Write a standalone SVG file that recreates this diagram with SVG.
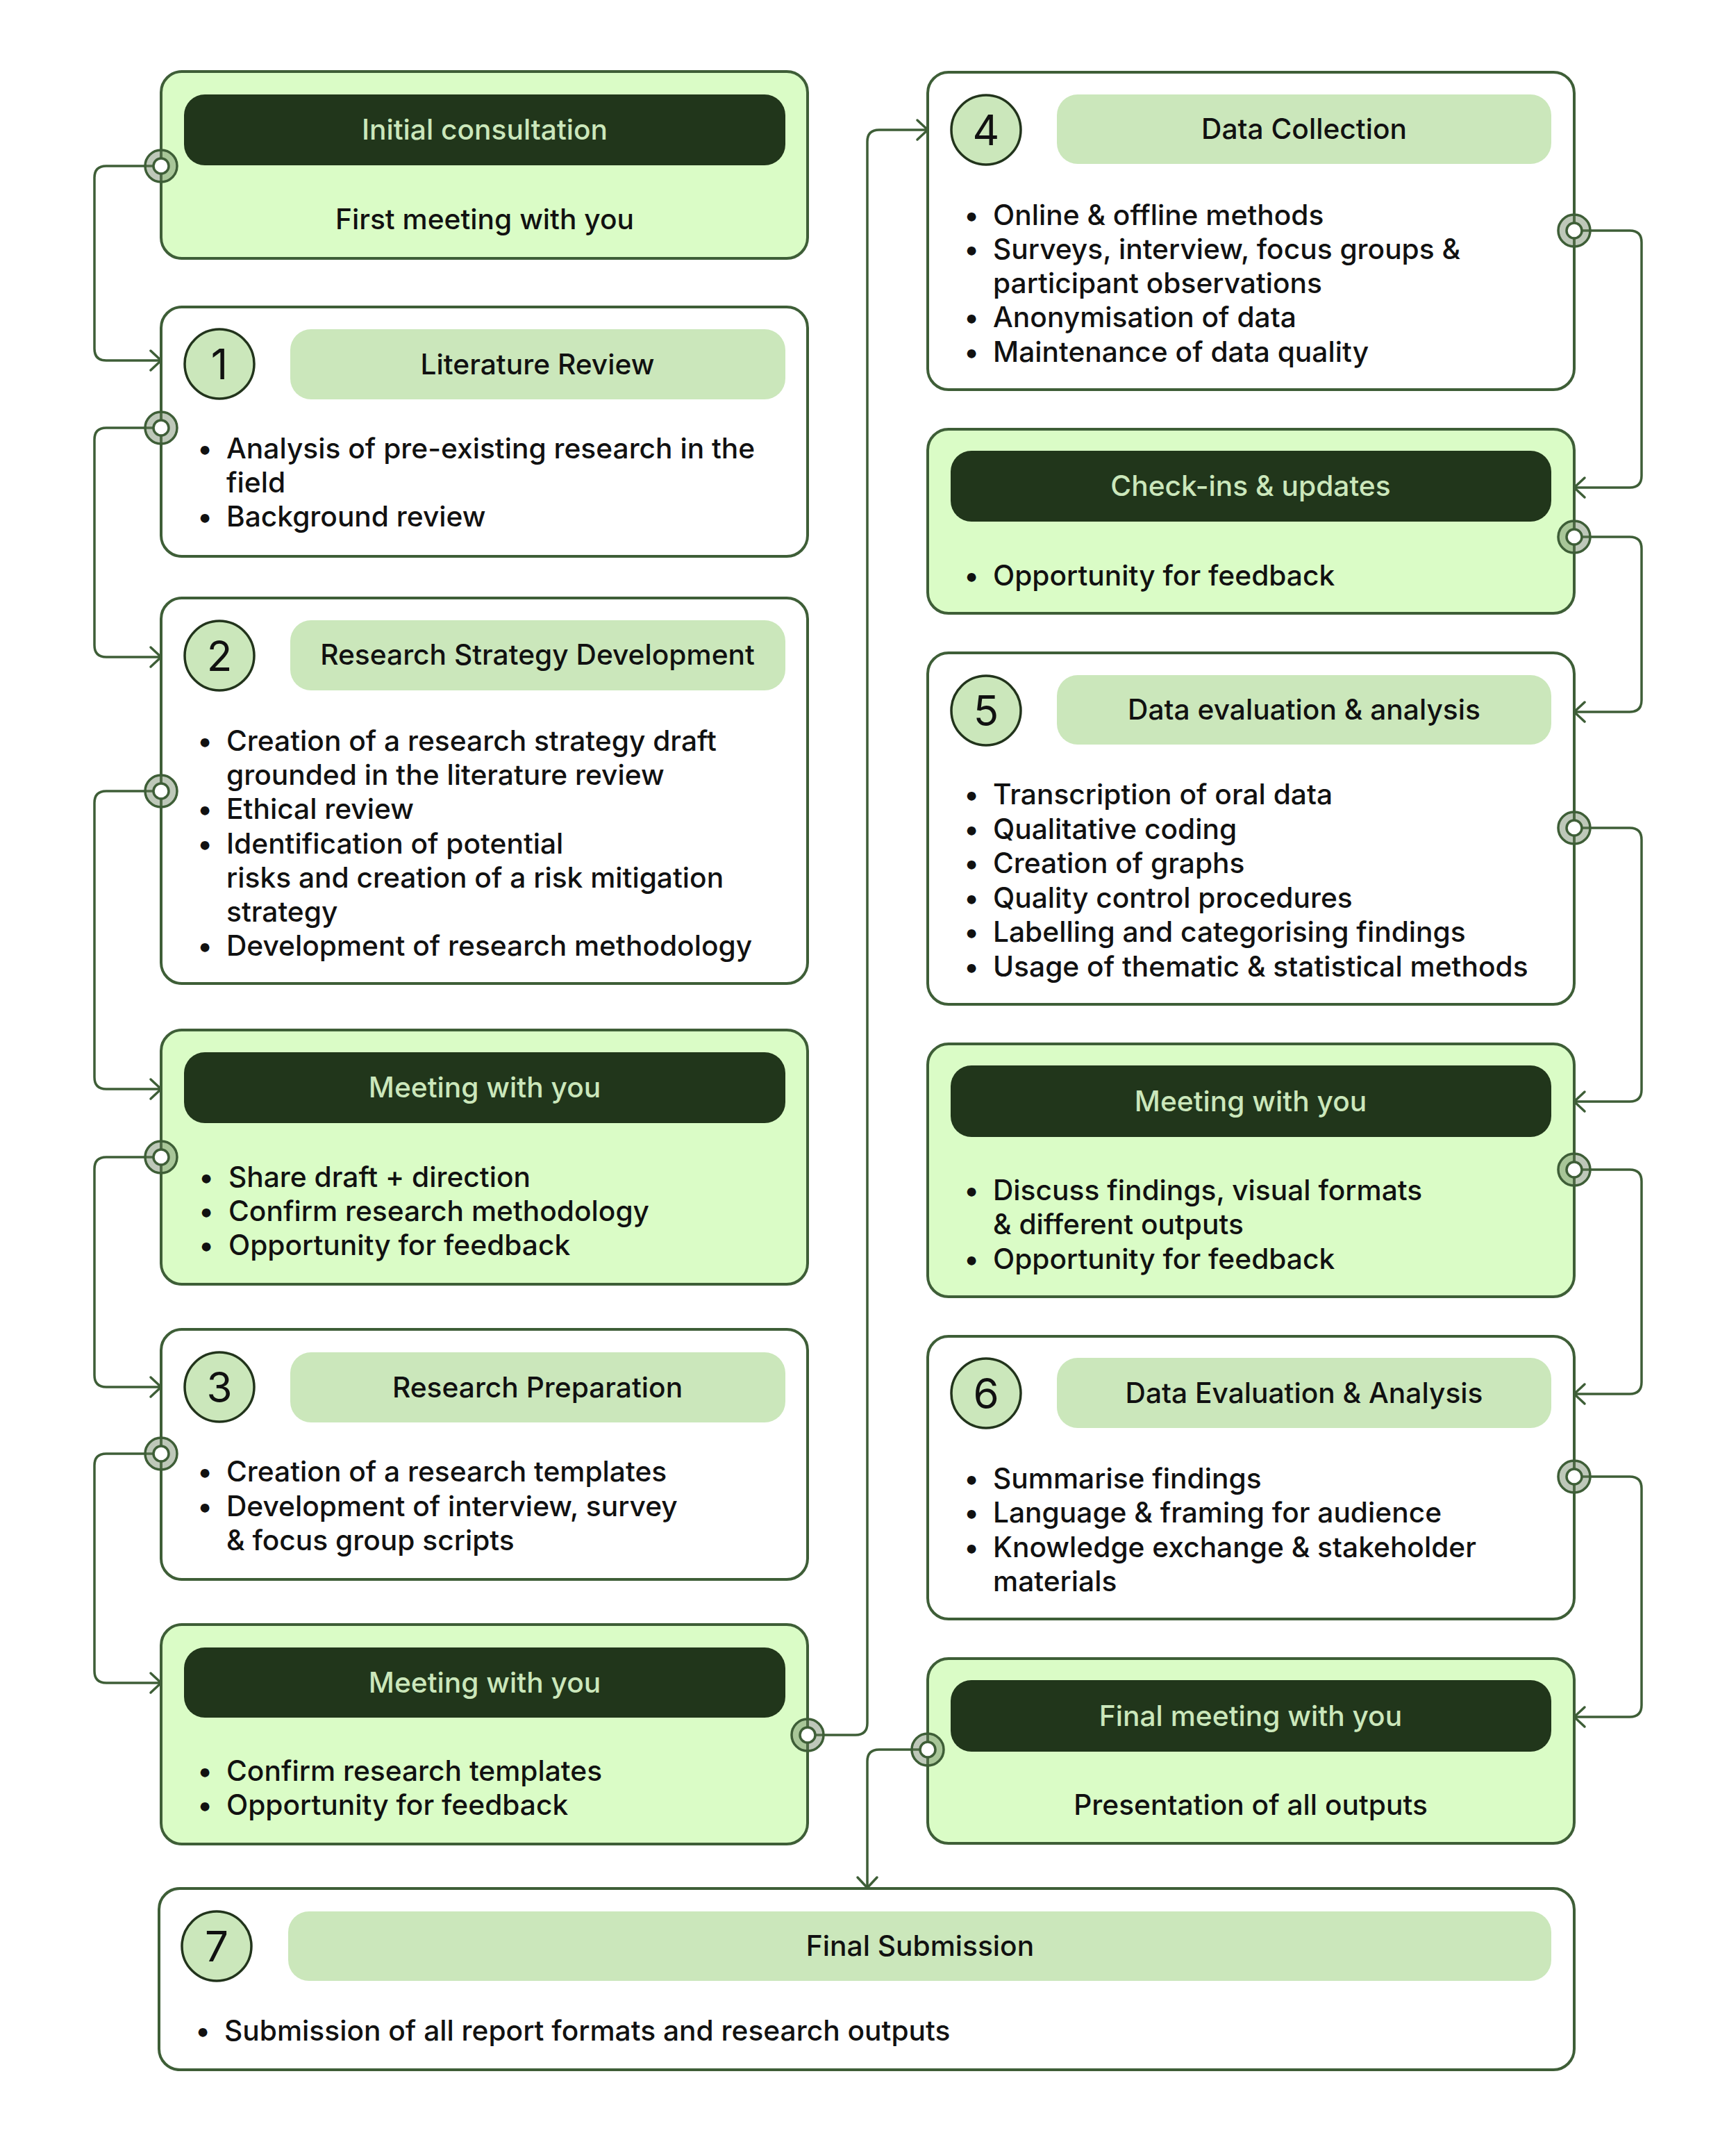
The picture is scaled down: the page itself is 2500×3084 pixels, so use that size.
<svg xmlns="http://www.w3.org/2000/svg" width="2500" height="3084" viewBox="0 0 2500 3084">
<style>
text{font-family:Inter,"Noto Sans","Liberation Sans",sans-serif;}
.box{fill:#ffffff;stroke:#3e5e37;stroke-width:4;}
.gbox{fill:#dafcc6;stroke:#3e5e37;stroke-width:4;}
.hdr{fill:#21361b;}
.pill{fill:#cbe7bb;}
.num{fill:#cbe7bb;stroke:#22341c;stroke-width:3.5;}
.numt{font-size:60px;fill:#111;text-anchor:middle;}
.ht{font-size:40.7px;font-weight:500;fill:#cbe7bb;text-anchor:middle;}
.pt{font-size:40.7px;font-weight:500;fill:#111;text-anchor:middle;}
.bt{font-size:40.7px;font-weight:500;fill:#111;}
.bd{font-size:40.7px;font-weight:500;fill:#111;text-anchor:middle;}
.ct{font-size:40.7px;font-weight:500;fill:#111;text-anchor:middle;}
.con{fill:none;stroke:#3e5e37;stroke-width:3.5;}
.ring{fill:#647c58;fill-opacity:0.42;stroke:#3e5e37;stroke-width:3.5;}
.ringi{fill:#ffffff;stroke:#3e5e37;stroke-width:3.5;}
</style>
<defs>
<marker id="arr" viewBox="-20 -20 24 40" refX="0" refY="0" markerWidth="24" markerHeight="40" markerUnits="userSpaceOnUse" orient="auto">
<path d="M-15,-14 L0,0 L-15,14" fill="none" stroke="#3e5e37" stroke-width="3.5" stroke-linecap="round" stroke-linejoin="round"/>
</marker>
</defs>
<rect width="2500" height="3084" fill="#ffffff"/>

<g id="node-initial">
<rect class="gbox" x="232" y="103" width="931" height="269" rx="30"/>
<rect class="hdr" x="265" y="136" width="866" height="102" rx="30"/>
<text class="ht" x="698" y="201">Initial consultation</text>
<text class="ct" x="698" y="330">First meeting with you</text>
</g>

<g id="node-1">
<rect class="box" x="232" y="442" width="931" height="359" rx="30"/>
<circle class="num" cx="316" cy="524" r="50"/>
<text class="numt" x="316" y="546">1</text>
<rect class="pill" x="418" y="474" width="713" height="101" rx="30"/>
<text class="pt" x="774" y="539">Literature Review</text>
<text class="bd" x="295" y="660">•</text>
<text class="bt" x="326" y="660">Analysis of pre-existing research in the</text>
<text class="bt" x="326" y="709">field</text>
<text class="bd" x="295" y="758">•</text>
<text class="bt" x="326" y="758">Background review</text>
</g>

<g id="node-2">
<rect class="box" x="232" y="861" width="931" height="555" rx="30"/>
<circle class="num" cx="316" cy="944" r="50"/>
<text class="numt" x="316" y="966">2</text>
<rect class="pill" x="418" y="893" width="713" height="101" rx="30"/>
<text class="pt" x="774" y="957">Research Strategy Development</text>
<text class="bd" x="295" y="1081">•</text>
<text class="bt" x="326" y="1081">Creation of a research strategy draft</text>
<text class="bt" x="326" y="1130">grounded in the literature review</text>
<text class="bd" x="295" y="1179">•</text>
<text class="bt" x="326" y="1179">Ethical review</text>
<text class="bd" x="295" y="1229">•</text>
<text class="bt" x="326" y="1229">Identification of potential</text>
<text class="bt" x="326" y="1278">risks and creation of a risk mitigation</text>
<text class="bt" x="326" y="1327">strategy</text>
<text class="bd" x="295" y="1376">•</text>
<text class="bt" x="326" y="1376">Development of research methodology</text>
</g>

<g id="node-meeting-1">
<rect class="gbox" x="232" y="1483" width="931" height="366" rx="30"/>
<rect class="hdr" x="265" y="1515" width="866" height="102" rx="30"/>
<text class="ht" x="698" y="1580">Meeting with you</text>
<text class="bd" x="297" y="1709">•</text>
<text class="bt" x="329" y="1709">Share draft + direction</text>
<text class="bd" x="297" y="1758">•</text>
<text class="bt" x="329" y="1758">Confirm research methodology</text>
<text class="bd" x="297" y="1807">•</text>
<text class="bt" x="329" y="1807">Opportunity for feedback</text>
</g>

<g id="node-3">
<rect class="box" x="232" y="1914" width="931" height="360" rx="30"/>
<circle class="num" cx="316" cy="1997" r="50"/>
<text class="numt" x="316" y="2019">3</text>
<rect class="pill" x="418" y="1947" width="713" height="101" rx="30"/>
<text class="pt" x="774" y="2012">Research Preparation</text>
<text class="bd" x="295" y="2133">•</text>
<text class="bt" x="326" y="2133">Creation of a research templates</text>
<text class="bd" x="295" y="2183">•</text>
<text class="bt" x="326" y="2183">Development of interview, survey</text>
<text class="bt" x="326" y="2232">&amp; focus group scripts</text>
</g>

<g id="node-meeting-2">
<rect class="gbox" x="232" y="2339" width="931" height="316" rx="30"/>
<rect class="hdr" x="265" y="2372" width="866" height="101" rx="30"/>
<text class="ht" x="698" y="2437">Meeting with you</text>
<text class="bd" x="295" y="2564">•</text>
<text class="bt" x="326" y="2564">Confirm research templates</text>
<text class="bd" x="295" y="2613">•</text>
<text class="bt" x="326" y="2613">Opportunity for feedback</text>
</g>

<g id="node-4">
<rect class="box" x="1336" y="104" width="931" height="457" rx="30"/>
<circle class="num" cx="1420" cy="187" r="50"/>
<text class="numt" x="1420" y="209">4</text>
<rect class="pill" x="1522" y="136" width="712" height="100" rx="30"/>
<text class="pt" x="1878" y="200">Data Collection</text>
<text class="bd" x="1399" y="324">•</text>
<text class="bt" x="1430" y="324">Online &amp; offline methods</text>
<text class="bd" x="1399" y="373">•</text>
<text class="bt" x="1430" y="373">Surveys, interview, focus groups &amp;</text>
<text class="bt" x="1430" y="422">participant observations</text>
<text class="bd" x="1399" y="471">•</text>
<text class="bt" x="1430" y="471">Anonymisation of data</text>
<text class="bd" x="1399" y="521">•</text>
<text class="bt" x="1430" y="521">Maintenance of data quality</text>
</g>

<g id="node-checkins">
<rect class="gbox" x="1336" y="618" width="931" height="265" rx="30"/>
<rect class="hdr" x="1369" y="649" width="865" height="102" rx="30"/>
<text class="ht" x="1801" y="714">Check-ins &amp; updates</text>
<text class="bd" x="1399" y="843">•</text>
<text class="bt" x="1430" y="843">Opportunity for feedback</text>
</g>

<g id="node-5">
<rect class="box" x="1336" y="940" width="931" height="506" rx="30"/>
<circle class="num" cx="1420" cy="1023" r="50"/>
<text class="numt" x="1420" y="1045">5</text>
<rect class="pill" x="1522" y="972" width="712" height="100" rx="30"/>
<text class="pt" x="1878" y="1036">Data evaluation &amp; analysis</text>
<text class="bd" x="1399" y="1158">•</text>
<text class="bt" x="1430" y="1158">Transcription of oral data</text>
<text class="bd" x="1399" y="1208">•</text>
<text class="bt" x="1430" y="1208">Qualitative coding</text>
<text class="bd" x="1399" y="1257">•</text>
<text class="bt" x="1430" y="1257">Creation of graphs</text>
<text class="bd" x="1399" y="1307">•</text>
<text class="bt" x="1430" y="1307">Quality control procedures</text>
<text class="bd" x="1399" y="1356">•</text>
<text class="bt" x="1430" y="1356">Labelling and categorising findings</text>
<text class="bd" x="1399" y="1406">•</text>
<text class="bt" x="1430" y="1406">Usage of thematic &amp; statistical methods</text>
</g>

<g id="node-meeting-3">
<rect class="gbox" x="1336" y="1503" width="931" height="364" rx="30"/>
<rect class="hdr" x="1369" y="1534" width="865" height="103" rx="30"/>
<text class="ht" x="1801" y="1600">Meeting with you</text>
<text class="bd" x="1399" y="1728">•</text>
<text class="bt" x="1430" y="1728">Discuss findings, visual formats</text>
<text class="bt" x="1430" y="1777">&amp; different outputs</text>
<text class="bd" x="1399" y="1827">•</text>
<text class="bt" x="1430" y="1827">Opportunity for feedback</text>
</g>

<g id="node-6">
<rect class="box" x="1336" y="1924" width="931" height="407" rx="30"/>
<circle class="num" cx="1420" cy="2006" r="50"/>
<text class="numt" x="1420" y="2028">6</text>
<rect class="pill" x="1522" y="1955" width="712" height="101" rx="30"/>
<text class="pt" x="1878" y="2020">Data Evaluation &amp; Analysis</text>
<text class="bd" x="1399" y="2143">•</text>
<text class="bt" x="1430" y="2143">Summarise findings</text>
<text class="bd" x="1399" y="2192">•</text>
<text class="bt" x="1430" y="2192">Language &amp; framing for audience</text>
<text class="bd" x="1399" y="2242">•</text>
<text class="bt" x="1430" y="2242">Knowledge exchange &amp; stakeholder</text>
<text class="bt" x="1430" y="2291">materials</text>
</g>

<g id="node-final-meeting">
<rect class="gbox" x="1336" y="2388" width="931" height="266" rx="30"/>
<rect class="hdr" x="1369" y="2419" width="865" height="103" rx="30"/>
<text class="ht" x="1801" y="2485">Final meeting with you</text>
<text class="ct" x="1801" y="2613">Presentation of all outputs</text>
</g>

<g id="node-7">
<rect class="box" x="229" y="2719" width="2038" height="261" rx="30"/>
<circle class="num" cx="312" cy="2802" r="50"/>
<text class="numt" x="312" y="2824">7</text>
<rect class="pill" x="415" y="2752" width="1819" height="100" rx="30"/>
<text class="pt" x="1325" y="2816">Final Submission</text>
<text class="bd" x="292" y="2938">•</text>
<text class="bt" x="323" y="2938">Submission of all report formats and research outputs</text>
</g>

<g id="connectors">
<path class="con" marker-end="url(#arr)" d="M232 239 H153 Q136 239 136 256 V502 Q136 519 153 519 H232"/>
<path class="con" marker-end="url(#arr)" d="M232 616 H153 Q136 616 136 633 V929 Q136 946 153 946 H232"/>
<path class="con" marker-end="url(#arr)" d="M232 1139 H153 Q136 1139 136 1156 V1551 Q136 1568 153 1568 H232"/>
<path class="con" marker-end="url(#arr)" d="M232 1666 H153 Q136 1666 136 1683 V1980 Q136 1997 153 1997 H232"/>
<path class="con" marker-end="url(#arr)" d="M232 2093 H153 Q136 2093 136 2110 V2406 Q136 2423 153 2423 H232"/>
<path class="con" marker-end="url(#arr)" d="M1163 2498 H1232 Q1249 2498 1249 2481 V204 Q1249 187 1266 187 H1336"/>
<path class="con" marker-end="url(#arr)" d="M2267 332 H2347 Q2364 332 2364 349 V685 Q2364 702 2347 702 H2267"/>
<path class="con" marker-end="url(#arr)" d="M2267 773 H2347 Q2364 773 2364 790 V1008 Q2364 1025 2347 1025 H2267"/>
<path class="con" marker-end="url(#arr)" d="M2267 1192 H2347 Q2364 1192 2364 1209 V1569 Q2364 1586 2347 1586 H2267"/>
<path class="con" marker-end="url(#arr)" d="M2267 1684 H2347 Q2364 1684 2364 1701 V1990 Q2364 2007 2347 2007 H2267"/>
<path class="con" marker-end="url(#arr)" d="M2267 2126 H2347 Q2364 2126 2364 2143 V2455 Q2364 2472 2347 2472 H2267"/>
<path class="con" marker-end="url(#arr)" d="M1336 2519 H1266 Q1249 2519 1249 2536 V2718"/>
<g id="rings">
<circle class="ring" cx="232" cy="239" r="23"/><circle class="ringi" cx="232" cy="239" r="11"/>
<circle class="ring" cx="232" cy="616" r="23"/><circle class="ringi" cx="232" cy="616" r="11"/>
<circle class="ring" cx="232" cy="1139" r="23"/><circle class="ringi" cx="232" cy="1139" r="11"/>
<circle class="ring" cx="232" cy="1666" r="23"/><circle class="ringi" cx="232" cy="1666" r="11"/>
<circle class="ring" cx="232" cy="2093" r="23"/><circle class="ringi" cx="232" cy="2093" r="11"/>
<circle class="ring" cx="1163" cy="2498" r="23"/><circle class="ringi" cx="1163" cy="2498" r="11"/>
<circle class="ring" cx="2267" cy="332" r="23"/><circle class="ringi" cx="2267" cy="332" r="11"/>
<circle class="ring" cx="2267" cy="773" r="23"/><circle class="ringi" cx="2267" cy="773" r="11"/>
<circle class="ring" cx="2267" cy="1192" r="23"/><circle class="ringi" cx="2267" cy="1192" r="11"/>
<circle class="ring" cx="2267" cy="1684" r="23"/><circle class="ringi" cx="2267" cy="1684" r="11"/>
<circle class="ring" cx="2267" cy="2126" r="23"/><circle class="ringi" cx="2267" cy="2126" r="11"/>
<circle class="ring" cx="1336" cy="2519" r="23"/><circle class="ringi" cx="1336" cy="2519" r="11"/>
</g>
</g>
</svg>
